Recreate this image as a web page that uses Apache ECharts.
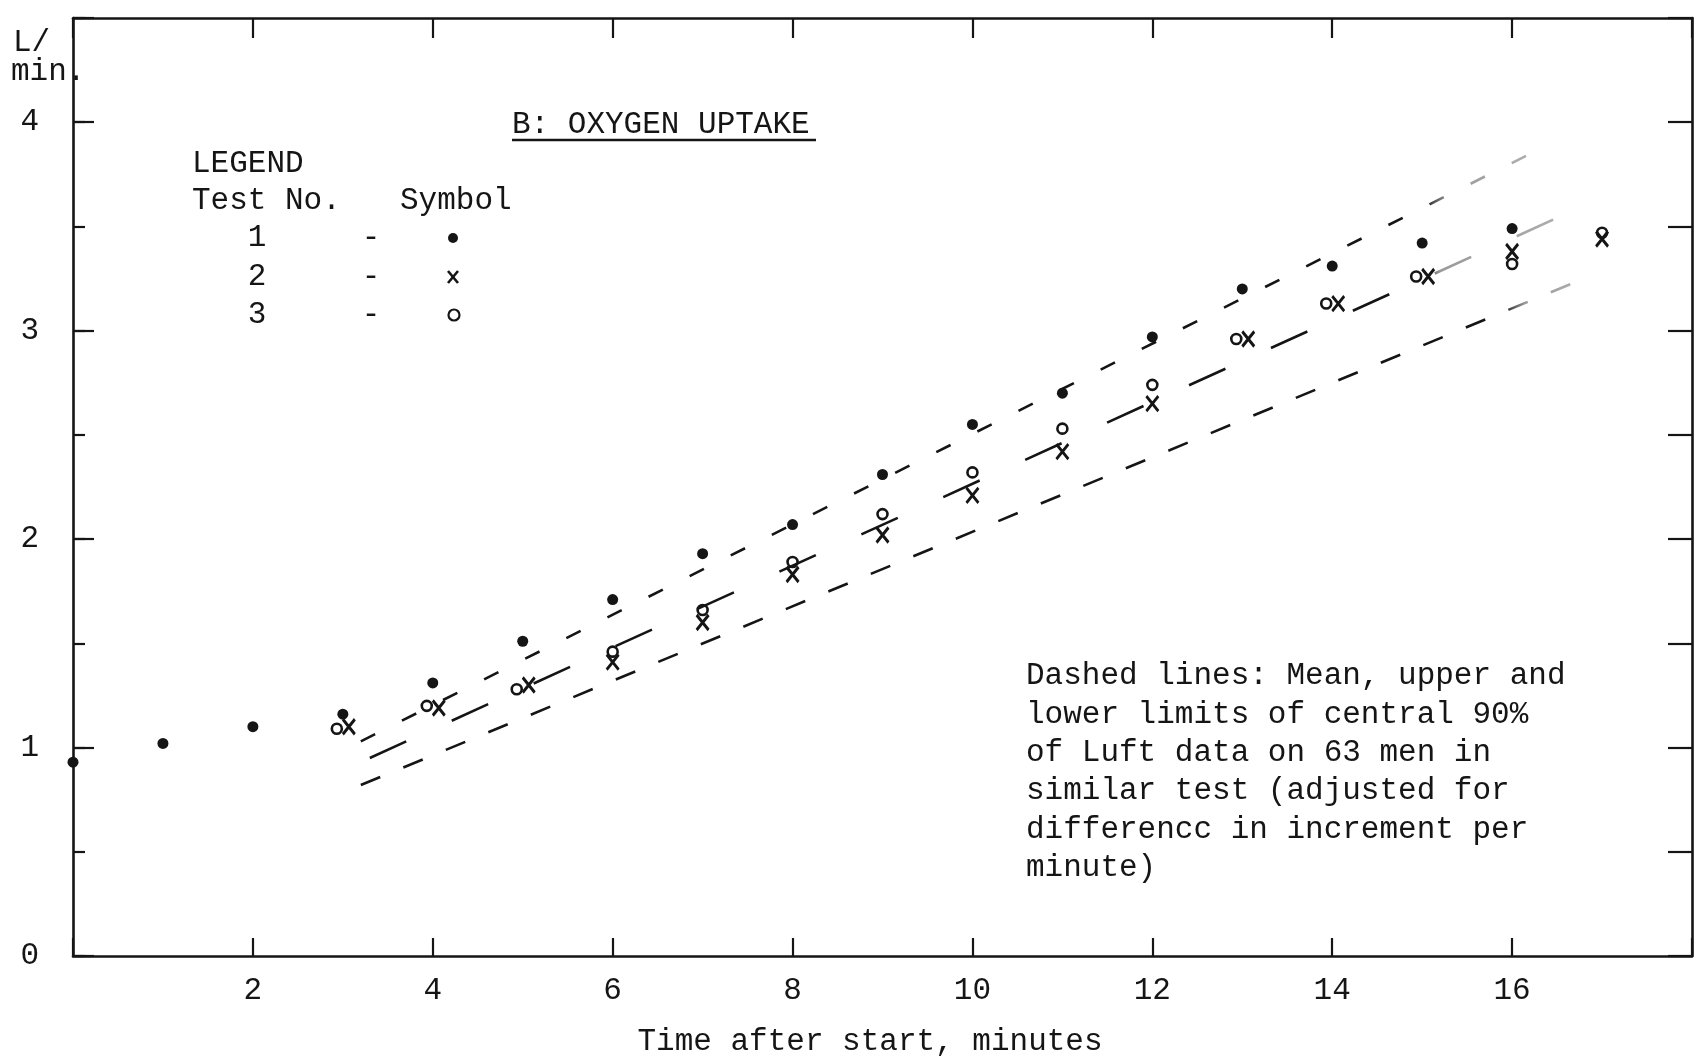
<!DOCTYPE html>
<html>
<head>
<meta charset="utf-8">
<script src="https://cdn.jsdelivr.net/npm/echarts@6/dist/echarts.min.js"></script>
<style>
  html, body { margin: 0; padding: 0; background: #ffffff; }
  #chart { width: 1699px; height: 1057px; }
</style>
</head>
<body>
<div id="chart"></div>
<script>
// Oxygen uptake (L/min) per minute of the test, three test runs
const minutesTest1 = [0, 1, 2, 3, 4, 5, 6, 7, 8, 9, 10, 11, 12, 13, 14, 15, 16];
const uptakeTest1  = [0.93, 1.02, 1.10, 1.16, 1.31, 1.51, 1.71, 1.93, 2.07, 2.31, 2.55, 2.70, 2.97, 3.20, 3.31, 3.42, 3.49];

const minutesTest2 = [3, 4, 5, 6, 7, 8, 9, 10, 11, 12, 13, 14, 15, 16, 17];
const uptakeTest2  = [1.10, 1.19, 1.30, 1.41, 1.60, 1.83, 2.02, 2.21, 2.42, 2.65, 2.96, 3.13, 3.26, 3.38, 3.44];

const minutesTest3 = [3, 4, 5, 6, 7, 8, 9, 10, 11, 12, 13, 14, 15, 16, 17];
const uptakeTest3  = [1.09, 1.20, 1.28, 1.46, 1.66, 1.89, 2.12, 2.32, 2.53, 2.74, 2.96, 3.13, 3.26, 3.32, 3.47];

// Luft reference data: end points [minute, L/min] of the three dashed lines
const luftUpper = [[3.2, 1.03], [16.3, 3.87]];
const luftMean  = [[3.3, 0.95], [16.8, 3.60]];
const luftLower = [[3.2, 0.82], [16.8, 3.25]];

// Tick labels
const xTickLabels = ['2', '4', '6', '8', '10', '12', '14', '16'];
const yTickLabels = ['0', '1', '2', '3', '4'];

// Text
const titleText = 'B: OXYGEN UPTAKE';
const yUnitLines = ['L/', 'min.'];
const xAxisTitle = 'Time after start, minutes';
const legendRows = ['1', '2', '3'];
const noteLines = [
  'Dashed lines: Mean, upper and',
  'lower limits of central 90%',
  'of Luft data on 63 men in',
  'similar test (adjusted for',
  'differencc in increment per',
  'minute)'
];

const INK = '#151515';
const FAMILY = '"Liberation Mono", "DejaVu Sans Mono", monospace';
const FONT = '31px ' + FAMILY;

// Typed "x" mark
const CROSS = 'path://M0,0L10,12M10,0L0,12';

const dotStyle   = { color: INK, opacity: 1 };
const crossStyle = { color: 'rgba(0,0,0,0)', borderColor: INK, borderWidth: 3, opacity: 1 };
const ringStyle  = { color: 'rgba(0,0,0,0)', borderColor: INK, borderWidth: 2.6, opacity: 1 };

// When tests 2 and 3 land on the same value the typist struck "o" and "x" side by side
function pairedData(minutes, values, otherMinutes, otherValues, shift) {
  return minutes.map((m, i) => {
    const j = otherMinutes.indexOf(m);
    const together = j >= 0 && Math.abs(otherValues[j] - values[i]) < 0.025;
    return together ? { value: [m, values[i]], symbolOffset: [shift, 0] } : [m, values[i]];
  });
}

const test1Data = minutesTest1.map((m, i) => [m, uptakeTest1[i]]);
const test2Data = pairedData(minutesTest2, uptakeTest2, minutesTest3, uptakeTest3, 6);
const test3Data = pairedData(minutesTest3, uptakeTest3, minutesTest2, uptakeTest2, -6);

// The photocopied dashes grow faint toward their upper ends
function fadingInk(fadeFrom) {
  return {
    type: 'linear', x: 0, y: 0, x2: 1, y2: 0,
    colorStops: [
      { offset: 0, color: INK },
      { offset: fadeFrom, color: INK },
      { offset: Math.min(1, fadeFrom + 0.02), color: '#9a9a9a' },
      { offset: 1, color: '#b0b0b0' }
    ]
  };
}

function dashedLine(name, data, dash, fadeFrom) {
  return {
    name, type: 'line', data, silent: true, showSymbol: false, symbol: 'none',
    lineStyle: { color: fadingInk(fadeFrom), width: 2.6, type: dash, cap: 'butt' },
    z: 2
  };
}

const frameLine = { show: true, onZero: false, lineStyle: { color: INK, width: 2.6 } };
const tickStyle = { color: INK, width: 2.2 };

function text(x, y, str, align) {
  return {
    type: 'text', x, y, silent: true,
    style: { text: str, font: FONT, fill: INK, align: align || 'left', verticalAlign: 'middle' }
  };
}

const graphics = [];
// unit label
graphics.push(text(13, 43, yUnitLines[0]));
graphics.push(text(11, 72, yUnitLines[1]));
// title with underline
graphics.push(text(512, 125, titleText));
graphics.push({
  type: 'line', silent: true,
  shape: { x1: 512, y1: 140, x2: 816, y2: 140 },
  style: { stroke: INK, lineWidth: 2.4 }
});
// legend block
graphics.push(text(192, 164, 'LEGEND'));
graphics.push(text(192, 201, 'Test No.'));
graphics.push(text(400, 201, 'Symbol'));
const legendY = [238, 277, 315];
legendRows.forEach((r, i) => {
  graphics.push(text(257, legendY[i], r, 'center'));
  graphics.push(text(371, legendY[i], '-', 'center'));
});
graphics.push({ type: 'circle', silent: true, shape: { cx: 453, cy: legendY[0], r: 5 }, style: { fill: INK } });
graphics.push({
  type: 'polyline', silent: true,
  shape: { points: [[448, legendY[1] - 6], [458, legendY[1] + 6]] },
  style: { stroke: INK, lineWidth: 2.6 }
});
graphics.push({
  type: 'polyline', silent: true,
  shape: { points: [[458, legendY[1] - 6], [448, legendY[1] + 6]] },
  style: { stroke: INK, lineWidth: 2.6 }
});
graphics.push({ type: 'circle', silent: true, shape: { cx: 454, cy: legendY[2], r: 5.5 }, style: { fill: 'none', stroke: INK, lineWidth: 2.2 } });
// note about the dashed lines
noteLines.forEach((line, i) => graphics.push(text(1026, 676 + i * 38.4, line)));
// x axis title
graphics.push(text(870, 1042, xAxisTitle, 'center'));

const chart = echarts.init(document.getElementById('chart'), null, { renderer: 'canvas' });

chart.setOption({
  animation: false,
  backgroundColor: '#ffffff',
  grid: { left: 73, right: 7, top: 18, bottom: 101, containLabel: false },
  xAxis: [
    {
      type: 'value', position: 'bottom', min: 0, max: 18, interval: 2,
      axisLine: frameLine,
      axisTick: { show: true, inside: true, length: 18, lineStyle: tickStyle },
      axisLabel: {
        show: true, margin: 19, color: INK, fontFamily: FAMILY, fontSize: 31,
        formatter: v => (xTickLabels.includes(String(v)) ? String(v) : '')
      },
      splitLine: { show: false }
    },
    {
      type: 'value', position: 'top', min: 0, max: 18, interval: 2,
      axisLine: frameLine,
      axisTick: { show: true, inside: true, length: 20, lineStyle: tickStyle },
      axisLabel: { show: false },
      splitLine: { show: false }
    }
  ],
  yAxis: [
    {
      type: 'value', position: 'left', min: 0, max: 4.5, interval: 0.5,
      axisLine: frameLine,
      axisTick: { show: true, inside: true, length: 12, lineStyle: tickStyle },
      axisLabel: { show: false },
      splitLine: { show: false }
    },
    {
      type: 'value', position: 'left', min: 0, max: 4.5, interval: 1,
      axisLine: { show: false, onZero: false },
      axisTick: { show: true, inside: true, length: 21, lineStyle: tickStyle },
      axisLabel: {
        show: true, margin: 34, color: INK, fontFamily: FAMILY, fontSize: 31,
        formatter: v => (yTickLabels.includes(String(v)) ? String(v) : '')
      },
      splitLine: { show: false }
    },
    {
      type: 'value', position: 'right', min: 0, max: 4.5, interval: 0.5,
      axisLine: frameLine,
      axisTick: { show: true, inside: true, length: 24, lineStyle: tickStyle },
      axisLabel: { show: false },
      splitLine: { show: false }
    }
  ],
  series: [
    dashedLine('Luft upper limit', luftUpper, [16, 30], 0.9),
    dashedLine('Luft mean', luftMean, [40, 50], 0.86),
    dashedLine('Luft lower limit', luftLower, [21, 25], 0.93),
    {
      name: 'Test 1', type: 'scatter', data: test1Data,
      symbol: 'circle', symbolSize: 11, itemStyle: dotStyle, z: 4
    },
    {
      name: 'Test 2', type: 'scatter', data: test2Data,
      symbol: CROSS, symbolSize: [12, 15], itemStyle: crossStyle, z: 4
    },
    {
      name: 'Test 3', type: 'scatter', data: test3Data,
      symbol: 'circle', symbolSize: 10, itemStyle: ringStyle, z: 4
    }
  ],
  graphic: graphics
});
</script>
</body>
</html>
